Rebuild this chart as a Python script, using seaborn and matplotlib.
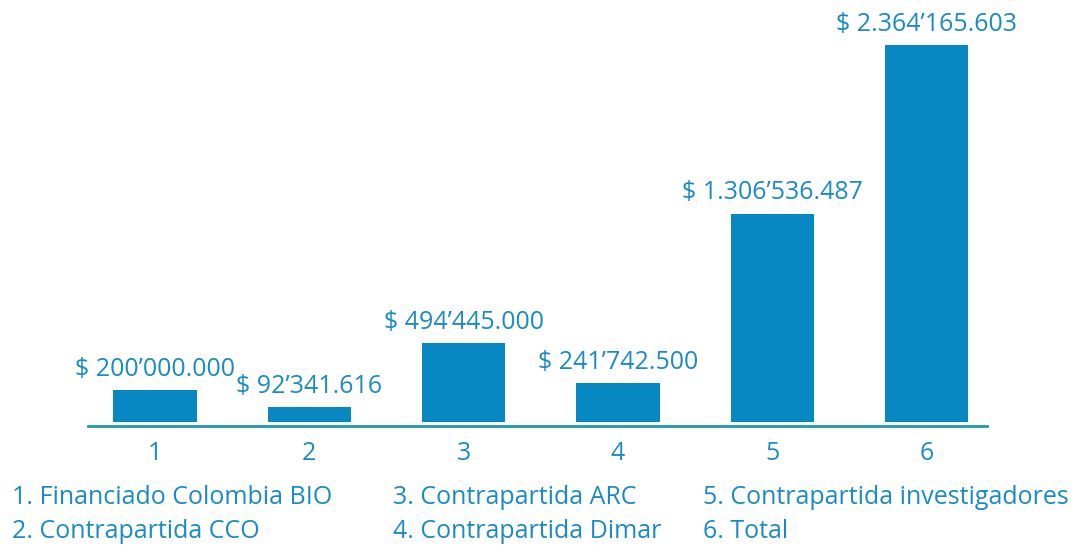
import matplotlib.pyplot as plt
import pandas as pd
import seaborn as sns

categories = ['1', '2', '3', '4', '5', '6']
values = [200000000, 92341616, 494445000, 241742500, 1306536487, 2364165603]
value_labels = ['$ 200’000.000', '$ 92’341.616', '$ 494’445.000',
                '$ 241’742.500', '$ 1.306’536.487', '$ 2.364’165.603']
legend_items = ['1. Financiado Colombia BIO', '2. Contrapartida CCO',
                '3. Contrapartida ARC', '4. Contrapartida Dimar',
                '5. Contrapartida investigadores', '6. Total']

BAR = '#0788C2'
TEXT = '#1A8BC6'
LINE = '#1A9BA6'

sns.set_style('white')
plt.rcParams['font.family'] = ['Open Sans', 'DejaVu Sans']

df = pd.DataFrame({'cat': categories, 'value': values})

fig = plt.figure(figsize=(10.73, 5.46), dpi=100)
ax = fig.add_axes([88 / 1073, 1 - 426 / 546, (987 - 88) / 1073, (426 - 45) / 546])
sns.barplot(x='cat', y='value', data=df, color=BAR, width=0.54, saturation=1,
            linewidth=0, ax=ax)

ax.set_xlim(-0.434, 5.39)
ax.set_ylim(-25e6, values[-1])
for i, (v, lab) in enumerate(zip(values, value_labels)):
    ax.annotate(lab, (i, v), xytext=(0, 6), textcoords='offset points',
                ha='center', va='bottom', fontsize=18, color=TEXT, annotation_clip=False)

for s in ['top', 'right', 'left']:
    ax.spines[s].set_visible(False)
ax.spines['bottom'].set_color(LINE)
ax.spines['bottom'].set_linewidth(2)
ax.set_yticks([])
ax.set(xlabel='', ylabel='')
ax.tick_params(axis='x', length=0, pad=11, labelsize=18, labelcolor=TEXT)

# legend text below the chart
col_x = [12, 393, 703]
row_y = [497, 531]
for k, item in enumerate(legend_items):
    fig.text(col_x[k // 2] / 1073, 1 - row_y[k % 2] / 546, item, fontsize=18,
             color=TEXT, ha='left', va='center')

fig.savefig('out.png', dpi=100)
